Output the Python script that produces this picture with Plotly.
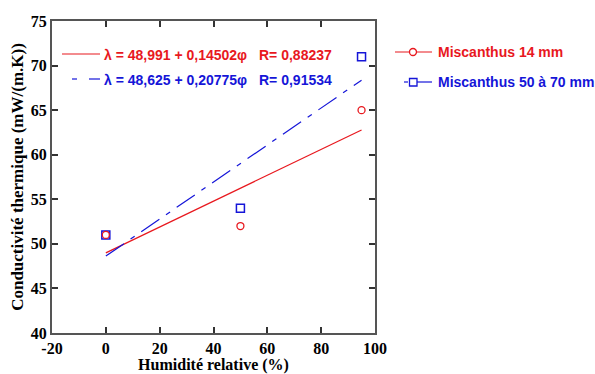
import plotly.graph_objects as go

# ---- data ----
humidity = [0, 50, 95]
misc14 = [51, 52, 65]
misc50 = [51, 54, 71]
fit_range = [0, 95]
fit14 = (48.991, 0.14502)
fit50 = (48.625, 0.20775)
x_ticks = [-20, 0, 20, 40, 60, 80, 100]
y_ticks = [40, 45, 50, 55, 60, 65, 70, 75]
eq14 = "λ = 48,991 + 0,14502φ"
eq50 = "λ = 48,625 + 0,20775φ"
r14 = "R= 0,88237"
r50 = "R= 0,91534"
name14 = "Miscanthus 14 mm"
name50 = "Miscanthus 50 à 70 mm"

RED = "#e8181e"
BLUE = "#1515d8"
DASH = "22px,8px,5px,8px"

W, H = 595, 374
L, R, T, B = 52, 375, 21, 333


def px(x):
    return (x - L) / (R - L)


def py(y):
    return (B - y) / (B - T)


fig = go.Figure()

fx = fit_range
fig.add_trace(go.Scatter(x=fx, y=[fit14[0] + fit14[1] * v for v in fx], mode="lines",
                         line=dict(color=RED, width=1.2), showlegend=False))
fig.add_trace(go.Scatter(x=fx, y=[fit50[0] + fit50[1] * v for v in fx], mode="lines",
                         line=dict(color=BLUE, width=1.2, dash=DASH), showlegend=False))
fig.add_trace(go.Scatter(x=humidity, y=misc50, mode="markers",
                         marker=dict(symbol="square-open", size=8, color=BLUE, line=dict(width=1.5)),
                         showlegend=False))
fig.add_trace(go.Scatter(x=humidity, y=misc14, mode="markers",
                         marker=dict(symbol="circle-open", size=7, color=RED, line=dict(width=1.3)),
                         showlegend=False))

shapes = []
annotations = []
SANS = "Liberation Sans"
SERIF = "Liberation Serif"

# equation rows inside plot
shapes.append(dict(type="line", xref="paper", yref="paper", x0=px(62), x1=px(100), y0=py(54), y1=py(54),
                   line=dict(color=RED, width=1.2)))
shapes.append(dict(type="line", xref="paper", yref="paper", x0=px(72), x1=px(77), y0=py(79), y1=py(79),
                   line=dict(color=BLUE, width=1.2)))
shapes.append(dict(type="line", xref="paper", yref="paper", x0=px(89), x1=px(100), y0=py(79), y1=py(79),
                   line=dict(color=BLUE, width=1.2)))
for txt, x, y, c in [(eq14, 103, 55, RED), (r14, 258, 55, RED), (eq50, 103, 80, BLUE), (r50, 258, 80, BLUE)]:
    annotations.append(dict(text=txt, xref="paper", yref="paper", x=px(x), y=py(y), xanchor="left",
                            yanchor="middle", showarrow=False, borderpad=0,
                            font=dict(family=SANS, size=14, color=c, weight="bold")))

# right legend
shapes.append(dict(type="line", xref="paper", yref="paper", x0=px(395), x1=px(432), y0=py(52), y1=py(52),
                   line=dict(color=RED, width=1.2)))
shapes.append(dict(type="circle", xref="paper", yref="paper", x0=px(409.5), x1=px(416.5), y0=py(48.5),
                   y1=py(55.5), line=dict(color=RED, width=1.3), fillcolor="white"))
shapes.append(dict(type="line", xref="paper", yref="paper", x0=px(404), x1=px(408), y0=py(82), y1=py(82),
                   line=dict(color=BLUE, width=1.2)))
shapes.append(dict(type="line", xref="paper", yref="paper", x0=px(417), x1=px(432), y0=py(82), y1=py(82),
                   line=dict(color=BLUE, width=1.2)))
shapes.append(dict(type="rect", xref="paper", yref="paper", x0=px(409.5), x1=px(417), y0=py(78.5),
                   y1=py(86), line=dict(color=BLUE, width=1.3), fillcolor="white"))
for txt, y, c in [(name14, 52, RED), (name50, 82, BLUE)]:
    annotations.append(dict(text=txt, xref="paper", yref="paper", x=px(437), y=py(y), xanchor="left",
                            yanchor="middle", showarrow=False, borderpad=0,
                            font=dict(family=SANS, size=14, color=c, weight="bold")))

axis_common = dict(showline=True, linecolor="#555555", linewidth=2, mirror="ticks", ticks="inside",
                   ticklen=6, tickwidth=1.5, tickcolor="#333333", showgrid=False, zeroline=False,
                   automargin=False,
                   tickfont=dict(family=SERIF, size=16, color="black", weight="bold"))

fig.update_layout(
    width=W, height=H,
    margin=dict(l=L, r=W - R, t=T, b=H - B),
    plot_bgcolor="white", paper_bgcolor="white",
    showlegend=False,
    shapes=shapes, annotations=annotations,
    xaxis=dict(range=[-20, 100], tickvals=x_ticks, ticktext=[str(v) for v in x_ticks],
               title=dict(text="Humidité relative (%)", standoff=0,
                          font=dict(family=SERIF, size=16, color="black", weight="bold")),
               **axis_common),
    yaxis=dict(range=[40, 75], tickvals=y_ticks, ticktext=[str(v) for v in y_ticks],
               title=dict(text="Conductivité thermique (mW/(m.K))", standoff=3,
                          font=dict(family=SERIF, size=17, color="black", weight="bold")),
               **axis_common),
)

fig.write_html("out.html")
